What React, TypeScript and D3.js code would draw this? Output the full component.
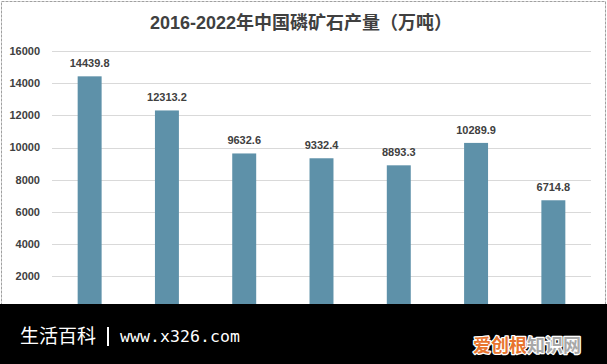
import React from "react";
import * as d3 from "d3";

const years = ["2016", "2017", "2018", "2019", "2020", "2021", "2022"];
const output = [14439.8, 12313.2, 9632.6, 9332.4, 8893.3, 10289.9, 6714.8];
const yTicks = [2000, 4000, 6000, 8000, 10000, 12000, 14000, 16000];
const title = "2016-2022年中国磷矿石产量（万吨）";
const footerLeft = "生活百科";
const footerUrl = "www.x326.com";
const logoA = "爱创根";
const logoB = "知识网";

const W = 607;
const H = 364;

export default function App() {
  const x = d3.scaleBand<string>().domain(years).range([51, 592]).paddingInner(0.69).paddingOuter(0.345);
  const y = d3.scaleLinear().domain([0, 16000]).range([308, 51.3]);
  const font = "'Liberation Sans', 'Noto Sans CJK SC', sans-serif";
  return (
    <>
      <style>{`body{margin:0}`}</style>
      <svg width={W} height={H} style={{ display: "block" }} fontFamily={font}>
        <rect x={0} y={0} width={W} height={H} fill="#ffffff" />
        <rect x={1.5} y={1.5} width={604} height={360} fill="none" stroke="#a0a0a0" strokeDasharray="3 1" />
        <text x={301} y={29} textAnchor="middle" fontSize={18} fontWeight="bold" fill="#404040">
          {title}
        </text>
        {yTicks.map((t) => (
          <g key={t}>
            <line x1={52} x2={591} y1={Math.round(y(t)) + 0.5} y2={Math.round(y(t)) + 0.5} stroke="#d9d9d9" />
            <text x={40} y={y(t)} dy="0.35em" textAnchor="end" fontSize={11} fontWeight="bold" fill="#404040">
              {t}
            </text>
          </g>
        ))}
        {years.map((yr, i) => (
          <g key={yr}>
            <rect x={x(yr)} y={y(output[i])} width={x.bandwidth()} height={y(0) - y(output[i])} fill="#5e91a9" />
            <text x={(x(yr) as number) + x.bandwidth() / 2} y={y(output[i]) - 9} textAnchor="middle" fontSize={11} fontWeight="bold" fill="#404040">
              {output[i]}
            </text>
          </g>
        ))}
        <rect x={0} y={304} width={W} height={H - 304} fill="#000000" />
        <text x={20} y={343} fontSize={19} fill="#ffffff" fontFamily="'Noto Sans CJK SC', sans-serif">
          {footerLeft}
        </text>
        <rect x={107} y={327} width={2} height={19} fill="#ffffff" />
        <text x={120} y={342} fontSize={16.5} fill="#ffffff" fontFamily="'DejaVu Sans Mono', monospace" textLength={120}>
          {footerUrl}
        </text>
        <text x={473} y={352} fontSize={18} fontWeight="bold" fontFamily="'Noto Sans CJK SC', sans-serif" stroke="#ffffff" strokeWidth={2.5} paintOrder="stroke" strokeLinejoin="round">
          <tspan fill="#e8742e">{logoA}</tspan>
          <tspan fill="#a8a8a8">{logoB}</tspan>
        </text>
      </svg>
    </>
  );
}
